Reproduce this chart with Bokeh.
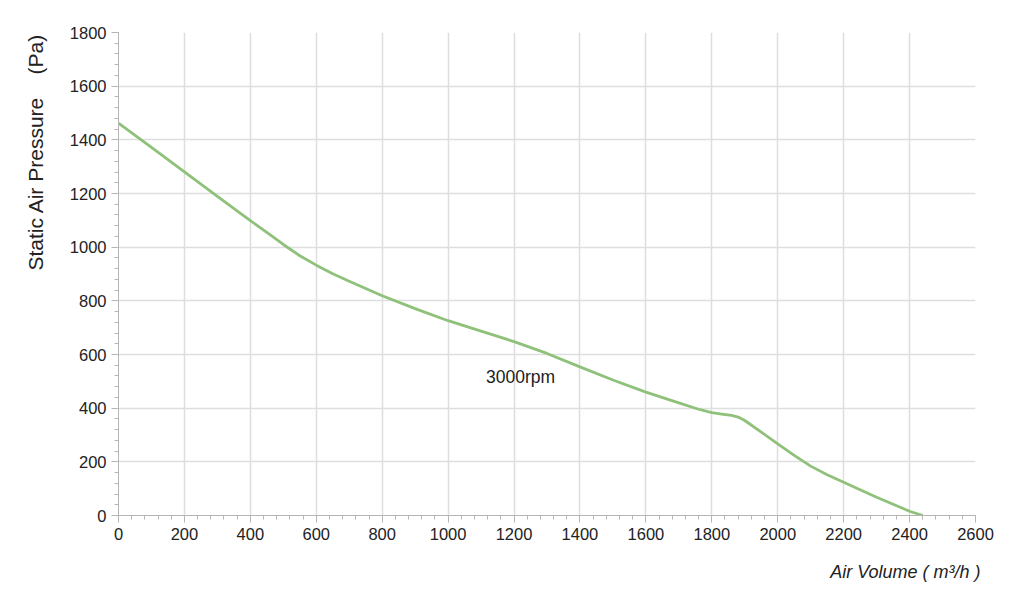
from bokeh.plotting import figure
from bokeh.models import Range1d, SingleIntervalTicker, Label, Title
from bokeh.embed import file_html
from bokeh.resources import INLINE

# fan curve
air_volume = [0, 100, 200, 300, 400, 450, 500, 550, 600, 650, 700, 800, 900, 1000, 1100, 1200,
              1300, 1400, 1500, 1600, 1700, 1760, 1800, 1830, 1860, 1880, 1900, 1950, 2000,
              2050, 2100, 2150, 2200, 2300, 2400, 2440]
pressure = [1462, 1372, 1281, 1189, 1099, 1055, 1010, 968, 933, 901, 873, 819, 771, 726, 687, 648,
            604, 554, 505, 460, 420, 396, 383, 378, 373, 367, 354, 311, 267,
            224, 184, 152, 124, 68, 16, 0]
curve_name = "3000rpm"
x_title = "Air Volume ( m³/h )"
y_title = "Static Air Pressure\u00a0\u00a0\u00a0\u00a0(Pa)"

FONT = "Liberation Sans"

p = figure(width=1010, height=599, output_backend="svg", toolbar_location=None,
           x_range=Range1d(0, 2600), y_range=Range1d(0, 1800),
           min_border_left=118, min_border_right=35, min_border_top=32, min_border_bottom=40)
p.outline_line_color = None
p.background_fill_color = "white"

p.xaxis.ticker = SingleIntervalTicker(interval=200, num_minor_ticks=5)
p.yaxis.ticker = SingleIntervalTicker(interval=200, num_minor_ticks=5)

for ax in (p.xaxis, p.yaxis):
    ax.axis_line_color = "#b5b5b5"
    ax.major_tick_line_color = "#b5b5b5"
    ax.minor_tick_line_color = "#b5b5b5"
    ax.major_tick_in = 0
    ax.major_tick_out = 7
    ax.minor_tick_in = 0
    ax.minor_tick_out = 4
    ax.major_label_text_font = FONT
    ax.major_label_text_font_size = "16.5px"
    ax.major_label_text_color = "#222222"
    ax.major_label_standoff = 5

p.xgrid.grid_line_color = "#dedede"
p.ygrid.grid_line_color = "#dedede"
p.xgrid.grid_line_width = 1.5
p.ygrid.grid_line_width = 1.5

p.line(air_volume, pressure, line_color="#8fc17b", line_width=2.8, line_join="round")

p.add_layout(Label(x=1220, y=518, text=curve_name, text_align="center", text_baseline="middle",
                   text_font=FONT, text_font_size="17.5px", text_color="#222222"))

# axis titles as side titles, so they sit off-centre like the original
p.add_layout(Title(text=x_title, align="right", offset=-5, standoff=35,
                   text_font=FONT, text_font_size="18px", text_font_style="italic",
                   text_color="#222222"), "below")
p.add_layout(Title(text=y_title, align="left", offset=245, standoff=40,
                   text_font=FONT, text_font_size="21px", text_font_style="normal",
                   text_color="#222222"), "left")

open("out.html", "w").write(file_html(p, INLINE))
